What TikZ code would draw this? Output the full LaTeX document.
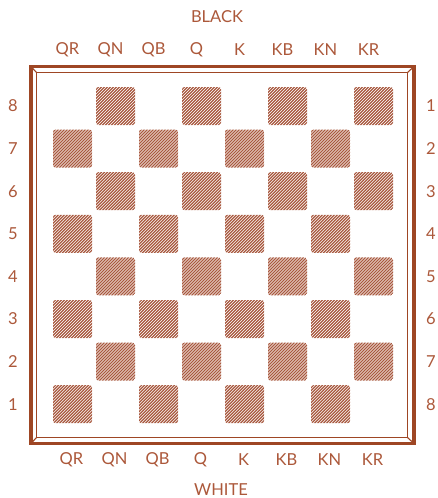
\documentclass[tikz,border=0pt]{standalone}
\usepackage{fontspec}
\setmainfont{Lato}
\definecolor{framebrown}{RGB}{158,70,36}
\definecolor{hatchbrown}{RGB}{168,88,62}
\definecolor{textbrown}{RGB}{172,88,58}
\tikzset{
  lab/.style={text=textbrown, font=\fontsize{16.5}{16.5}\selectfont, inner sep=0pt, anchor=center},
  hatchline/.style={draw=hatchbrown, line width=1.25pt},
  framethick/.style={draw=framebrown, line width=3.6pt},
  framethin/.style={draw=framebrown, line width=1.1pt},
}
\begin{document}
\begin{tikzpicture}[x=1pt,y=-1pt]
\useasboundingbox (0,0) rectangle (437,498);
\fill[white] (0,0) rectangle (437,498);
% frame
\draw[framethick] (31,66.5) rectangle (414,443.5);
\draw[framethin] (36.5,72.5) rectangle (407.5,437.5);
\draw[framethin] (31,66.5) -- (36.5,72.5);
\draw[framethin] (414,66.5) -- (407.5,72.5);
\draw[framethin] (31,443.5) -- (36.5,437.5);
\draw[framethin] (414,443.5) -- (407.5,437.5);
% dark squares
\foreach \i in {1,...,8}{
  \foreach \j in {1,...,8}{
    \pgfmathtruncatemacro\odd{mod(\i+\j,2)}
    \ifnum\odd=1
      \begin{scope}
        \pgfmathsetmacro\xo{53+43*(\i-1)}
        \pgfmathsetmacro\yo{87+42.6*(\j-1)}
        \clip[rounded corners=2.5pt] (\xo,\yo) rectangle ++(39,38);
        \foreach \k in {-39,-36,...,39}
          \draw[hatchline] (\xo+\k,\yo+38.5) -- ++(39,-39);
      \end{scope}
    \fi
  }
}
% labels
\node[lab] (black) at (217,17) {BLACK};
\node[lab] (white) at (221,490) {WHITE};
\foreach \n [count=\c] in {QR,QN,QB,Q,K,KB,KN,KR}{
  \node[lab] (top\c) at (67.5+43*\c-43,50) {\n};
  \node[lab] (bot\c) at (71.5+43*\c-43,460) {\n};
}
\foreach \r [count=\c] in {8,7,6,5,4,3,2,1}{
  \node[lab] (left\c) at (13,106+42.6*\c-42.6) {\r};
}
\foreach \r [count=\c] in {1,2,3,4,5,6,7,8}{
  \node[lab] (right\c) at (431,106+42.6*\c-42.6) {\r};
}
\end{tikzpicture}
\end{document}
